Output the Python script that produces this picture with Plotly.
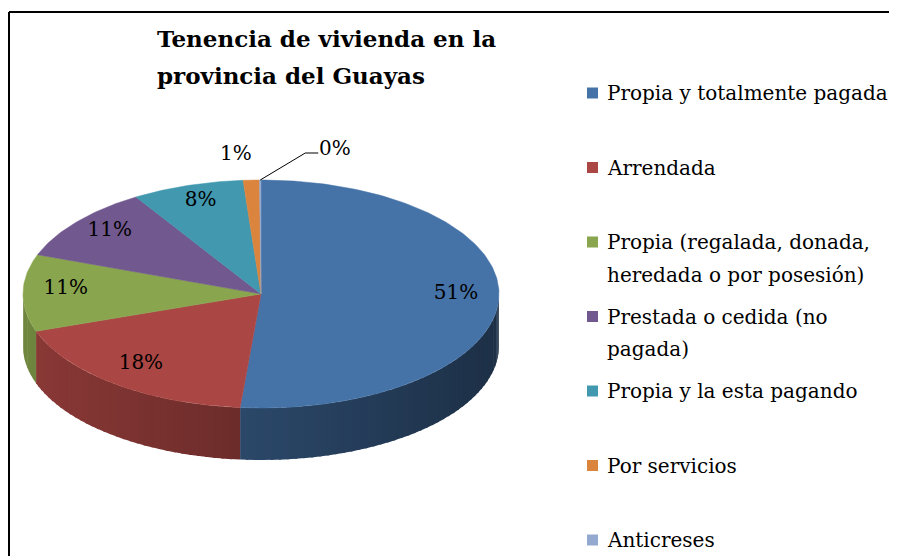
import math
import numpy as np
import plotly.graph_objects as go

# ---------------- data ----------------
categories = [
    "Propia y totalmente pagada",
    "Arrendada",
    "Propia (regalada, donada,<br>heredada o por posesión)",
    "Prestada o cedida (no<br>pagada)",
    "Propia y la esta pagando",
    "Por servicios",
    "Anticreses",
]
values = [51.4, 18.3, 10.9, 10.6, 7.6, 1.1, 0.1]
colors = ["#4572A7", "#AA4643", "#89A54E", "#71588F", "#4198AF", "#DB843D", "#93A9CF"]
title_lines = ["Tenencia de vivienda en la", "provincia del Guayas"]

# ---------------- geometry (pixel-like axes) ----------------
W, H = 897, 556
OFF = 8  # page body margin
CX, CY, RX, RY, DEPTH = 261, 294, 238, 114, 52
SERIF = "DejaVu Serif"


def pt(theta_deg, k=1.0, dy=0.0):
    t = np.radians(theta_deg)
    return CX + RX * k * np.sin(t), CY - RY * k * np.cos(t) + dy


def hex_to_rgb(h):
    h = h.lstrip("#")
    return tuple(int(h[i:i + 2], 16) for i in (0, 2, 4))


def shade(hexcol, f):
    r, g, b = hex_to_rgb(hexcol)
    return "rgb(%d,%d,%d)" % (r * f, g * f, b * f)


total = sum(values)
bounds = []
acc = 0.0
for v in values:
    a = acc / total * 360.0
    acc += v
    b = acc / total * 360.0
    bounds.append((a, b))

fig = go.Figure()

# ---- side walls (front half only), drawn as shaded strips ----
for (a, b), col in zip(bounds, colors):
    lo, hi = max(a, 90.0), min(b, 270.0)
    if lo >= hi:
        continue
    n = max(1, int(math.ceil((hi - lo) / 2.0)))
    edges = np.linspace(lo, hi, n + 1)
    for t0, t1 in zip(edges[:-1], edges[1:]):
        t1e = min(t1 + 0.6, hi)
        ts = np.linspace(t0, t1e, 4)
        xt, yt = pt(ts)
        xb, yb = pt(ts[::-1], dy=DEPTH)
        xs = list(xt) + list(xb) + [xt[0]]
        ys = list(yt) + list(yb) + [yt[0]]
        xm = float(np.mean(pt(np.array([t0, t1]))[0]))
        f = 0.82 - 0.40 * (xm - (CX - RX)) / (2 * RX)
        c = shade(col, f)
        fig.add_trace(go.Scatter(
            x=xs, y=ys, mode="lines", fill="toself", fillcolor=c,
            line=dict(color=c, width=0), hoverinfo="skip", showlegend=False))

# ---- top faces ----
for (a, b), col, name in zip(bounds, colors, categories):
    n = max(2, int(math.ceil((b - a) / 1.0)) + 1)
    ts = np.linspace(a, b, n)
    xa, ya = pt(ts)
    xs = [CX] + list(xa) + [CX]
    ys = [CY] + list(ya) + [CY]
    fig.add_trace(go.Scatter(
        x=xs, y=ys, mode="lines", fill="toself", fillcolor=col,
        line=dict(color=col, width=0.5), hoverinfo="skip", showlegend=False,
        name=name.replace("<br>", " ")))

# ---- percentage labels ----
pct = [f"{round(v / total * 100)}%" for v in values]
lab_x, lab_y, lab_t = [], [], []
for i, ((a, b), p) in enumerate(zip(bounds, pct)):
    mid = (a + b) / 2
    share = values[i] / total
    if share >= 0.05:
        x, y = pt(mid, 0.82, dy=-4)
        lab_x.append(x); lab_y.append(y); lab_t.append(p)
fig.add_trace(go.Scatter(
    x=lab_x, y=lab_y, mode="text", text=lab_t,
    textfont=dict(family=SERIF, size=20, color="#000000"),
    hoverinfo="skip", showlegend=False))

# small slices: outside labels
small = [i for i, v in enumerate(values) if v / total < 0.05]
for i in small:
    a, b = bounds[i]
    mid = (a + b) / 2
    ex, ey = pt(mid)
    if i == small[0]:
        fig.add_annotation(x=ex - 15, y=ey - 27, text=pct[i], showarrow=False,
                           xref="x", yref="y",
                           font=dict(family=SERIF, size=20, color="#000000"))
    else:
        fig.add_trace(go.Scatter(
            x=[ex, ex + 45, ex + 58], y=[ey, ey - 27, ey - 27], mode="lines",
            line=dict(color="#000000", width=1), hoverinfo="skip", showlegend=False))
        fig.add_annotation(x=ex + 57, y=ey - 32, text=pct[i], showarrow=False,
                           xref="x", yref="y", xanchor="left",
                           font=dict(family=SERIF, size=20, color="#000000"))

# ---- title ----
for j, line in enumerate(title_lines):
    fig.add_annotation(x=155, y=38 + j * 37, text=f"<b>{line}</b>", showarrow=False,
                       xref="x", yref="y", xanchor="left", yanchor="middle",
                       font=dict(family=SERIF, size=23, color="#000000"))

# ---- legend ----
for i, (name, col) in enumerate(zip(categories, colors)):
    y0 = 93 + i * 74.5
    fig.add_shape(type="rect", x0=587, x1=598, y0=y0 - 5.5, y1=y0 + 5.5,
                  xref="x", yref="y", fillcolor=col, line=dict(width=0))
    for j, line in enumerate(name.split("<br>")):
        fig.add_annotation(x=605, y=y0 + j * 32.5, text=line, showarrow=False,
                           xref="x", yref="y", xanchor="left", yanchor="middle",
                           font=dict(family=SERIF, size=20, color="#000000"))

# ---- chart border (extends past the visible area) ----
fig.add_shape(type="line", x0=9, x1=9, y0=H + 5, y1=12, xref="x", yref="y",
              line=dict(color="#000000", width=2))
fig.add_shape(type="line", x0=9, x1=W + 5, y0=12, y1=12, xref="x", yref="y",
              line=dict(color="#000000", width=2))

fig.update_layout(
    width=W - OFF, height=H - OFF,
    margin=dict(l=0, r=0, t=0, b=0),
    paper_bgcolor="#FFFFFF", plot_bgcolor="#FFFFFF",
    showlegend=False,
    xaxis=dict(range=[OFF, W], visible=False, fixedrange=True),
    yaxis=dict(range=[H, OFF], visible=False, fixedrange=True),
)

fig.write_html("out.html")
